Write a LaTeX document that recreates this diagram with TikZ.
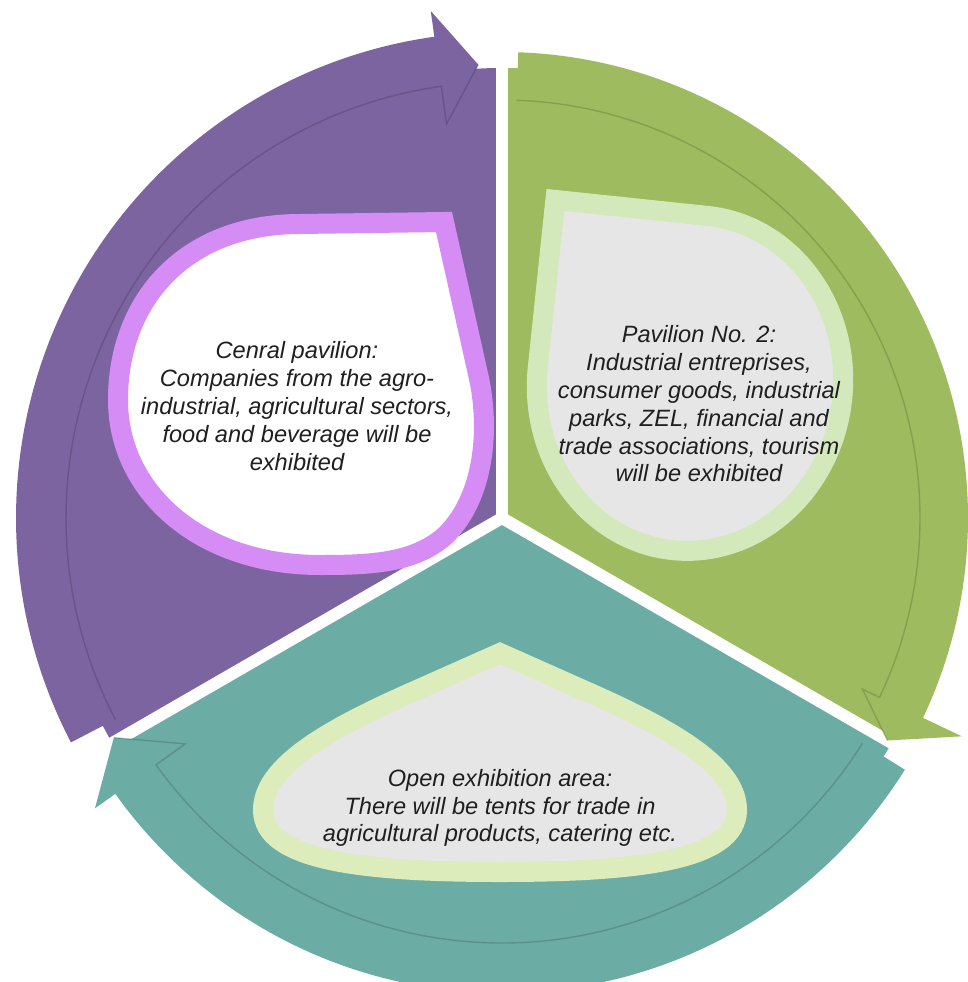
\documentclass[tikz,border=0pt]{standalone}
\usepackage{fontspec}
\setmainfont{Liberation Sans}
\definecolor{purp}{RGB}{123,100,160}
\definecolor{grn}{RGB}{158,187,95}
\definecolor{tealc}{RGB}{107,172,164}
\definecolor{lilac}{RGB}{213,140,245}
\definecolor{lgreen}{RGB}{211,233,188}
\definecolor{lyellow}{RGB}{220,236,186}
\definecolor{lgray}{RGB}{230,230,230}
\begin{document}
\begin{tikzpicture}[x=1pt,y=-1pt,
  label text/.style={font=\fontsize{23.6}{27.8}\selectfont\itshape, text=black!88, align=center, inner sep=0pt},
  ring/.style={line width=20pt, line join=miter},
  divider/.style={white, line width=12pt},
  edge shade/.style={line width=1.4pt, opacity=0.3}]
\useasboundingbox (0,0) rectangle (968,982);
\fill[white] (0,0) rectangle (968,982);

% three pie sectors around the common centre
\begin{scope}[shift={(502,518)}]
  \fill[purp]  (0,0) -- (150:450) arc[start angle=150, end angle=270, radius=450] -- cycle;
  \fill[grn]   (0,0) -- (-90:450) arc[start angle=-90, end angle=30, radius=450] -- cycle;
  \fill[tealc] (0,0) -- (30:450) arc[start angle=30, end angle=150, radius=450] -- cycle;

  % white separators
  \draw[divider] (0,0) -- (270:452);
  \draw[divider] (0,0) -- (30:452);
  \draw[divider] (0,0) -- (150:452);

  % circular arrow bands
  \fill[purp] (152.5:486) arc[start angle=152.5, end angle=262, radius=486]
     -- (262:512) -- (267:454) -- (262:398) -- (262:436)
     arc[start angle=262, end angle=152.5, radius=436] -- cycle;
  \draw[edge shade, purp!50!black] (152.5:436) arc[start angle=152.5, end angle=262, radius=436]
     -- (262:398) -- (267:454);

  \fill[grn] (-88:466) arc[start angle=-88, end angle=25.4, radius=466]
     -- (25.4:509) -- (30:445) -- (25.4:399) -- (25.4:418)
     arc[start angle=25.4, end angle=-88, radius=418] -- cycle;
  \draw[edge shade, grn!50!black] (-88:418) arc[start angle=-88, end angle=25.4, radius=418]
     -- (25.4:399) -- (30:445);

  \fill[tealc] (32:475) arc[start angle=32, end angle=144.5, radius=475]
     -- (144.5:500) -- (150.5:446) -- (144.5:389) -- (144.5:425)
     arc[start angle=144.5, end angle=32, radius=425] -- cycle;
  \draw[edge shade, tealc!50!black] (32:425) arc[start angle=32, end angle=144.5, radius=425]
     -- (144.5:389) -- (150.5:446);
\end{scope}

% drop shapes holding the texts
\draw[ring, draw=lilac, fill=white] (444,222) -- (478,374)
   .. controls (490,425) and (486,495) .. (446,535)
   .. controls (415,563) and (372,565) .. (320,565)
   .. controls (200,565) and (118,492) .. (118,400)
   .. controls (118,300) and (185,224) .. (300,224) -- cycle;

\begin{scope}[shift={(690,383)}, rotate=-6]
  \draw[ring, draw=lgreen, fill=lgray] (-153,-168) -- (0,-168)
     arc[start angle=-90, end angle=180, x radius=153, y radius=168] -- cycle;
\end{scope}

\draw[ring, draw=lyellow, fill=lgray] (500,653) -- (410,693)
   .. controls (322,732) and (263,768) .. (263,810)
   .. controls (263,860) and (360,872) .. (500,872)
   .. controls (640,872) and (737,860) .. (737,810)
   .. controls (737,768) and (678,732) .. (590,693) -- cycle;

% texts
\node[label text] (central) at (297,406)
  {Cenral pavilion:\\Companies from the agro-\\industrial, agricultural sectors,\\food and beverage will be\\exhibited};
\node[label text] (pav2) at (699,404)
  {Pavilion No. 2:\\Industrial entreprises,\\consumer goods, industrial\\parks, ZEL, financial and\\trade associations, tourism\\will be exhibited};
\node[label text] (open) at (500,808)
  {Open exhibition area:\\There will be tents for trade in\\agricultural products, catering etc.};
\end{tikzpicture}
\end{document}
